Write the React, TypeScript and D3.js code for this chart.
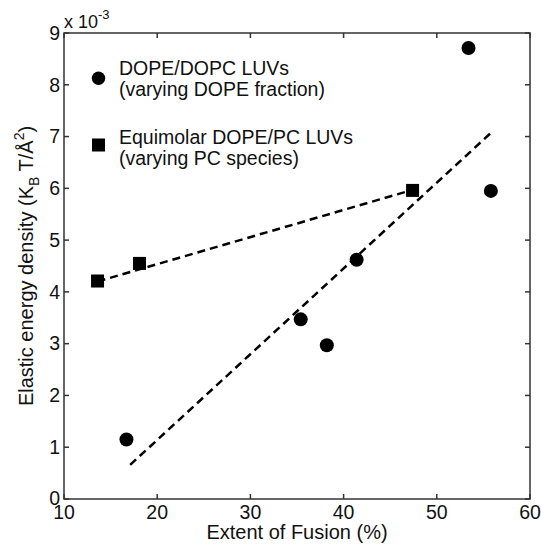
import React, { useEffect, useRef } from "react";
import * as d3 from "d3";

// DOPE/DOPC LUVs (varying DOPE fraction)
const circleX = [16.7, 35.4, 38.2, 41.4, 53.4, 55.8];
const circleY = [1.15, 3.47, 2.97, 4.62, 8.71, 5.95];
// Equimolar DOPE/PC LUVs (varying PC species)
const squareX = [13.6, 18.1, 47.4];
const squareY = [4.21, 4.55, 5.96];
// fitted dashed lines (end points)
const circleFitX = [17.1, 55.8];
const circleFitY = [0.66, 7.07];
const squareFitX = [13.6, 47.4];
const squareFitY = [4.2, 5.97];

const xTicks = [10, 20, 30, 40, 50, 60];
const yTicks = [0, 1, 2, 3, 4, 5, 6, 7, 8, 9];

const W = 541;
const H = 548;
const margin = { top: 33, right: 11, bottom: 49, left: 64 };
const FONT = "'Liberation Sans', Arial, sans-serif";

export default function App() {
  const ref = useRef<SVGSVGElement>(null);

  useEffect(() => {
    const svg = d3.select(ref.current);
    svg.selectAll("*").remove();

    const x = d3.scaleLinear().domain([10, 60]).range([margin.left, W - margin.right]);
    const y = d3.scaleLinear().domain([0, 9]).range([H - margin.bottom, margin.top]);

    const g = svg.append("g").attr("font-family", FONT).attr("fill", "#111");

    // frame
    g.append("rect")
      .attr("x", x(10))
      .attr("y", y(9))
      .attr("width", x(60) - x(10))
      .attr("height", y(0) - y(9))
      .attr("fill", "none")
      .attr("stroke", "#333")
      .attr("stroke-width", 1.5);

    const tl = 5;
    // x ticks, bottom and top, pointing inward
    xTicks.forEach((t) => {
      g.append("line")
        .attr("x1", x(t)).attr("x2", x(t))
        .attr("y1", y(0)).attr("y2", y(0) - tl)
        .attr("stroke", "#333").attr("stroke-width", 1.5);
      g.append("line")
        .attr("x1", x(t)).attr("x2", x(t))
        .attr("y1", y(9)).attr("y2", y(9) + tl)
        .attr("stroke", "#333").attr("stroke-width", 1.5);
      g.append("text")
        .attr("x", x(t))
        .attr("y", y(0) + 20)
        .attr("text-anchor", "middle")
        .attr("font-size", 19.5)
        .text(t);
    });

    yTicks.forEach((t) => {
      g.append("line")
        .attr("x1", x(10)).attr("x2", x(10) + tl)
        .attr("y1", y(t)).attr("y2", y(t))
        .attr("stroke", "#333").attr("stroke-width", 1.5);
      g.append("line")
        .attr("x1", x(60)).attr("x2", x(60) - tl)
        .attr("y1", y(t)).attr("y2", y(t))
        .attr("stroke", "#333").attr("stroke-width", 1.5);
      g.append("text")
        .attr("x", x(10) - 4)
        .attr("y", y(t) - (t === 0 ? 1 : 0))
        .attr("dy", "0.35em")
        .attr("text-anchor", "end")
        .attr("font-size", 19.5)
        .text(t);
    });

    // exponent label
    const ex = g.append("text")
      .attr("x", x(10))
      .attr("y", 28)
      .attr("font-size", 18);
    ex.append("tspan").text("x 10");
    ex.append("tspan").attr("font-size", 13).attr("dy", -9).text("-3");

    // axis titles
    g.append("text")
      .attr("x", (x(10) + x(60)) / 2)
      .attr("y", 539)
      .attr("text-anchor", "middle")
      .attr("font-size", 20)
      .text("Extent of Fusion (%)");

    const yt = g.append("text")
      .attr("transform", `translate(33, ${(y(0) + y(9)) / 2}) rotate(-90)`)
      .attr("text-anchor", "middle")
      .attr("font-size", 20);
    yt.append("tspan").text("Elastic energy density (K");
    yt.append("tspan").attr("font-size", 14).attr("dy", 6).text("B");
    yt.append("tspan").attr("dy", -6).text(" T/Å");
    yt.append("tspan").attr("font-size", 14).attr("dy", -9).text("2");
    yt.append("tspan").attr("dy", 9).text(")");

    // fit lines
    const line = d3.line<[number, number]>()
      .x((d) => x(d[0]))
      .y((d) => y(d[1]));

    [
      [circleFitX, circleFitY],
      [squareFitX, squareFitY],
    ].forEach(([fx, fy]) => {
      g.append("path")
        .attr("d", line(fx.map((v, i) => [v, fy[i]] as [number, number])))
        .attr("fill", "none")
        .attr("stroke", "#000")
        .attr("stroke-width", 2.5)
        .attr("stroke-dasharray", "8,5");
    });

    // markers
    g.selectAll("circle.pt")
      .data(circleX.map((v, i) => [v, circleY[i]]))
      .enter()
      .append("circle")
      .attr("cx", (d) => x(d[0]))
      .attr("cy", (d) => y(d[1]))
      .attr("r", 7)
      .attr("fill", "#000");

    const sq = 13;
    g.selectAll("rect.pt")
      .data(squareX.map((v, i) => [v, squareY[i]]))
      .enter()
      .append("rect")
      .attr("x", (d) => x(d[0]) - sq / 2)
      .attr("y", (d) => y(d[1]) - sq / 2)
      .attr("width", sq)
      .attr("height", sq)
      .attr("fill", "#000");

    // legend
    g.append("circle").attr("cx", 98.5).attr("cy", 78.3).attr("r", 6.7).attr("fill", "#000");
    g.append("rect").attr("x", 92).attr("y", 138.5).attr("width", 13).attr("height", 13).attr("fill", "#000");
    const legend = [
      ["DOPE/DOPC LUVs", 75],
      ["(varying DOPE fraction)", 96],
      ["Equimolar DOPE/PC LUVs", 143.5],
      ["(varying PC species)", 165],
    ] as [string, number][];
    legend.forEach(([s, by]) => {
      g.append("text").attr("x", 119).attr("y", by).attr("font-size", 19.5).text(s);
    });
  }, []);

  return (
    <svg
      ref={ref}
      width={W}
      height={H}
      style={{ position: "absolute", left: 0, top: 0, background: "#fff" }}
    />
  );
}
